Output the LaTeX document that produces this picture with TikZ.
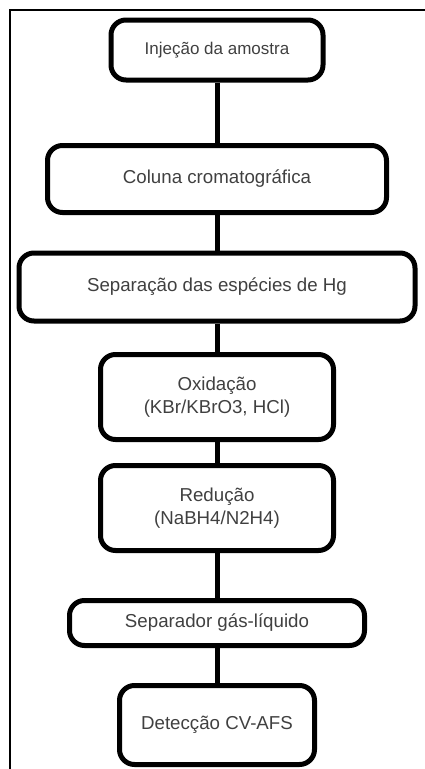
\documentclass[tikz,border=0pt]{standalone}
\usepackage{fontspec}
\setmainfont{Liberation Sans}
\usepackage{tikz}
\usetikzlibrary{positioning}

\begin{document}
\begin{tikzpicture}[%
x=1pt, y=-1pt,
node distance=110pt,
on grid,
etapa/.style={draw, line width=5pt, rounded corners=15pt, align=center,
  text=black!75, font=\fontsize{18.7}{23}\selectfont, inner sep=0pt},
liga/.style={line width=5pt}
]
\useasboundingbox (0,0) rectangle (425,769);
\draw[line width=2pt] (10,769) -- (10,10) -- (425,10);

\node[etapa, font=\fontsize{17}{21}\selectfont, minimum width=212pt, minimum height=60pt] (injecao) at (217,50) {Injeção da amostra};
\node[etapa, minimum width=339pt, minimum height=67pt] (coluna) [below=129pt of injecao] {Coluna cromatográfica};
\node[etapa, minimum width=396pt, minimum height=68pt] (separacao) [below=108pt of coluna] {Separação das espécies de Hg};
\node[etapa, minimum width=233pt, minimum height=85pt] (oxidacao) [below=110pt of separacao] {Oxidação\\(KBr/KBrO3, HCl)};
\node[etapa, minimum width=233pt, minimum height=85pt] (reducao) [below=111pt of oxidacao] {Redução\\(NaBH4/N2H4)};
\node[etapa, minimum width=295pt, minimum height=45pt] (separador) [below=115pt of reducao] {Separador gás-líquido};
\node[etapa, minimum width=195pt, minimum height=79pt] (deteccao) [below=102pt of separador] {Detecção CV-AFS};

% ligacoes entre etapas
\path[liga] (injecao) edge (coluna);
\path[liga] (coluna) edge (separacao);
\path[liga] (separacao) edge (oxidacao);
\path[liga] (oxidacao) edge (reducao);
\path[liga] (reducao) edge (separador);
\path[liga] (separador) edge (deteccao);
\end{tikzpicture}
\end{document}
